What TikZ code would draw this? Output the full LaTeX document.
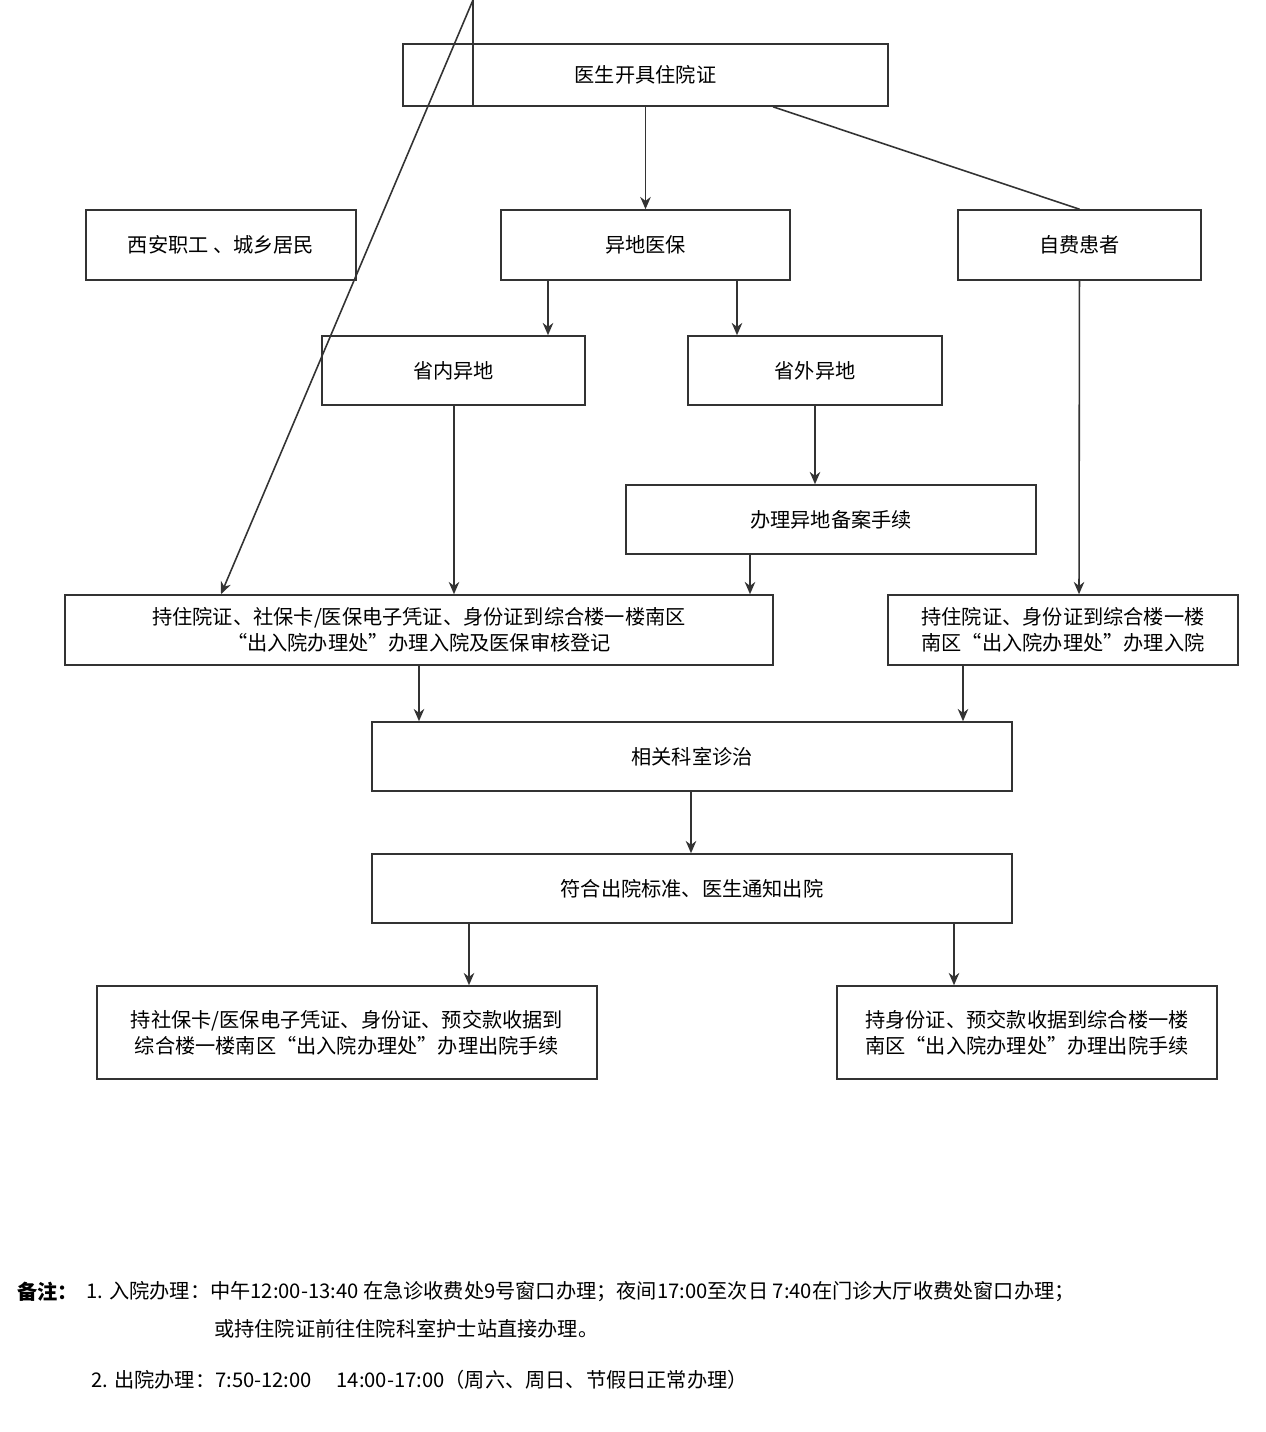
\documentclass[tikz,border=0pt]{standalone}
\usepackage{fontspec}
\setmainfont{Noto Sans CJK SC}
\usetikzlibrary{arrows.meta}
\definecolor{ln}{HTML}{333333}
\tikzset{
  box/.style={draw=ln, line width=0.9pt, align=center, inner sep=0pt, font=\fontsize{11.5}{15}\selectfont},
  arr/.style={draw=ln, line width=0.9pt, -{Stealth[length=7pt,width=6pt]}},
  ln/.style={draw=ln, line width=0.9pt},
}
\begin{document}
\begin{tikzpicture}[x=0.02cm, y=-0.02cm]
  \useasboundingbox (0,0) rectangle (1266,1432);
  % boxes
  \node[box, minimum width=485*0.02cm, minimum height=62*0.02cm] (top) at (645.5,75) {医生开具住院证};
  \node[box, minimum width=270*0.02cm, minimum height=70*0.02cm] (xa) at (221,245) {西安职工 、城乡居民};
  \node[box, minimum width=289*0.02cm, minimum height=70*0.02cm] (yd) at (645.5,245) {异地医保};
  \node[box, minimum width=243*0.02cm, minimum height=70*0.02cm] (zf) at (1079.5,245) {自费患者};
  \node[box, minimum width=263*0.02cm, minimum height=69*0.02cm] (sn) at (453.5,370.5) {省内异地};
  \node[box, minimum width=254*0.02cm, minimum height=69*0.02cm] (sw) at (815,370.5) {省外异地};
  \node[box, minimum width=410*0.02cm, minimum height=69*0.02cm] (ba) at (831,519.5) {办理异地备案手续};
  \node[box, minimum width=708*0.02cm, minimum height=70*0.02cm] (rz) at (419,630) {持住院证、社保卡/医保电子凭证、身份证到综合楼一楼南区\\“出入院办理处”办理入院及医保审核登记};
  \node[box, minimum width=350*0.02cm, minimum height=70*0.02cm] (rzr) at (1063,630) {持住院证、身份证到综合楼一楼\\南区“出入院办理处”办理入院};
  \node[box, minimum width=640*0.02cm, minimum height=69*0.02cm] (ks) at (692,756.5) {相关科室诊治};
  \node[box, minimum width=640*0.02cm, minimum height=69*0.02cm] (fh) at (692,888.5) {符合出院标准、医生通知出院};
  \node[box, minimum width=500*0.02cm, minimum height=93*0.02cm] (cyl) at (347,1032.5) {持社保卡/医保电子凭证、身份证、预交款收据到\\综合楼一楼南区“出入院办理处”办理出院手续};
  \node[box, minimum width=380*0.02cm, minimum height=93*0.02cm] (cyr) at (1027,1032.5) {持身份证、预交款收据到综合楼一楼\\南区“出入院办理处”办理出院手续};
  % x positions
  \foreach \n/\x in {a/473,b/773,c/548,d/737,e/750,f/1079,g/963,h/469,i/954,j/221,k/454,m/815,n/419,o/691}
    \coordinate (x\n) at (\x,0);
  % connectors
  \draw[ln] (top.south -| xa) -- (xa.north);
  \draw[ln] (top.south -| xb) -- (zf.north);
  \draw[arr] (top) -- (yd);
  \draw[arr] (yd.south -| xc) -- (sn.north -| xc);
  \draw[arr] (yd.south -| xd) -- (sw.north -| xd);
  \draw[arr] (sw) -- (ba.north -| xm);
  \draw[arr] (xa) -- (rz.north -| xj);
  \draw[arr] (sn.south -| xk) -- (rz.north -| xk);
  \draw[arr] (ba.south -| xe) -- (rz.north -| xe);
  \draw[arr] (zf) -- (rzr.north -| xf);
  \draw[arr] (rz.south -| xn) -- (ks.north -| xn);
  \draw[arr] (rzr.south -| xg) -- (ks.north -| xg);
  \draw[arr] (ks.south -| xo) -- (fh.north -| xo);
  \draw[arr] (fh.south -| xh) -- (cyl.north -| xh);
  \draw[arr] (fh.south -| xi) -- (cyr.north -| xi);
  % notes
  \begin{scope}[every node/.style={anchor=west, inner sep=0pt, font=\fontsize{11.5}{14}\selectfont}]
    \node (bz) at (17,1292) {\textbf{备注：}};
    \node (n1) at (86,1292) {1. 入院办理：中午12:00-13:40 在急诊收费处9号窗口办理；夜间17:00至次日 7:40在门诊大厅收费处窗口办理；};
    \node (n1b) at (214,1329) {或持住院证前往住院科室护士站直接办理。};
    \node (n2) at (91,1380) {2. 出院办理：7:50-12:00\quad\ 14:00-17:00（周六、周日、节假日正常办理）};
  \end{scope}
\end{tikzpicture}
\end{document}
